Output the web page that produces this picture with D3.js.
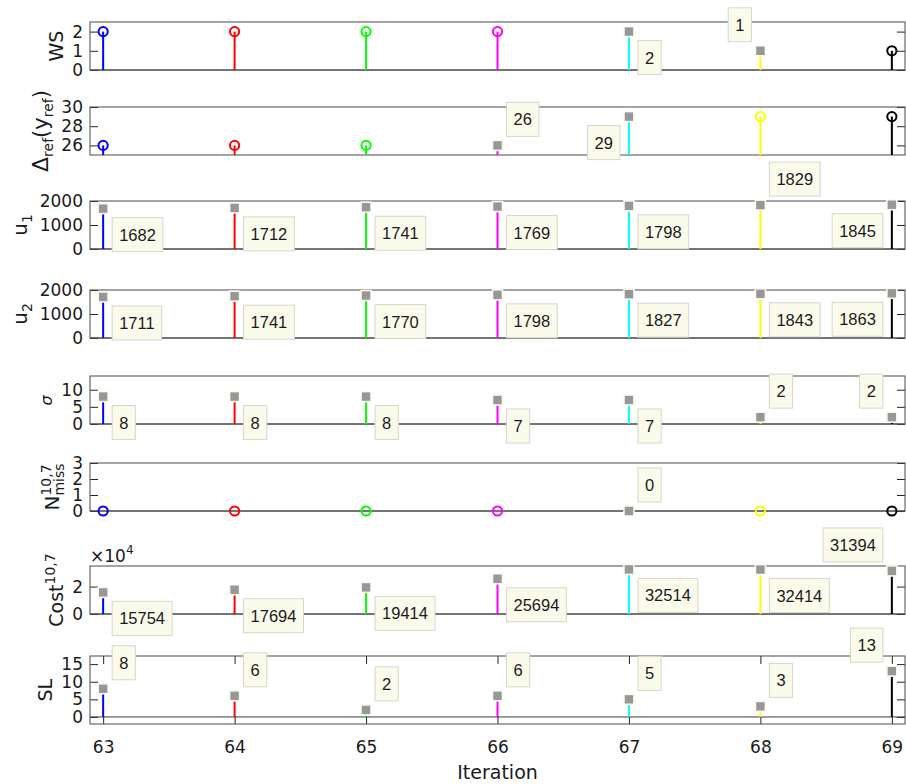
<!DOCTYPE html>
<html>
<head>
<meta charset="utf-8">
<script src="https://cdn.jsdelivr.net/npm/d3@7"></script>
<style>
  body { margin: 0; background: #fff; }
  svg { display: block; }
  .tick text { font-family: "DejaVu Sans", sans-serif; font-size: 17px; fill: #1a1a1a; }
  .tick line { stroke: #262626; }
  .ylab text { font-family: "DejaVu Sans", sans-serif; fill: #1a1a1a; }
</style>
</head>
<body>
<svg id="chart" width="906" height="784"></svg>
<script>
// ---- data -------------------------------------------------------------
const iterations = [63, 64, 65, 66, 67, 68, 69];
const wsValues = [2, 2, 2, 2, 2, 1, 1];
const refDeltaValues = [26, 26, 26, 26, 29, 29, 29];
const u1Values = [1682, 1712, 1741, 1769, 1798, 1829, 1845];
const u2Values = [1711, 1741, 1770, 1798, 1827, 1843, 1863];
const sigmaValues = [8, 8, 8, 7, 7, 2, 2];
const missValues = [0, 0, 0, 0, 0, 0, 0];
const costValues = [15754, 17694, 19414, 25694, 32514, 32414, 31394];
const slValues = [8, 6, 2, 6, 5, 3, 13];

// iterations with a data tip, and the corner of the point the tip sits at
// (br = below-right, ar = above-right, al = above-left, bl = below-left)
const wsTips = { 67: "br", 68: "al" };
const refDeltaTips = { 66: "ar", 67: "bl" };
const u1Tips = { 63: "br", 64: "br", 65: "br", 66: "br", 67: "br", 68: "ar", 69: "bl" };
const u2Tips = { 63: "br", 64: "br", 65: "br", 66: "br", 67: "br", 68: "br", 69: "bl" };
const sigmaTips = { 63: "br", 64: "br", 65: "br", 66: "br", 67: "br", 68: "ar", 69: "al" };
const missTips = { 67: "ar" };
const costTips = { 63: "br", 64: "br", 65: "br", 66: "br", 67: "br", 68: "br", 69: "al" };
const slTips = { 63: "ar", 64: "ar", 65: "ar", 66: "ar", 67: "ar", 68: "ar", 69: "al" };

// tick values
const wsTicks = [0, 1, 2];
const refDeltaTicks = [26, 28, 30];
const uTicks = [0, 1000, 2000];
const sigmaTicks = [0, 5, 10];
const missTicks = [0, 1, 2, 3];
const costTicks = [0, 20000];
const slTicks = [0, 5, 10, 15];
const xTickLabels = ["63", "64", "65", "66", "67", "68", "69"];

// one stem colour per iteration
const stemColors = ["#0000ff", "#ff0000", "#00ff00", "#ff00ff", "#00ffff", "#ffff00", "#000000"];

// ---- layout -----------------------------------------------------------
const svg = d3.select("#chart");
const plotLeft = 90, plotRight = 905;
const x = d3.scaleLinear().domain([62.9, 69.1]).range([plotLeft, plotRight]);

const panels = [
  { id: "ws", values: wsValues, ticks: wsTicks, tips: wsTips, top: 22, bottom: 70, domain: [0, 2.5],
    label: [{ t: "WS" }] },
  { id: "dref", values: refDeltaValues, ticks: refDeltaTicks, tips: refDeltaTips, top: 107, bottom: 155, domain: [25, 30],
    label: [{ t: "Δ", size: 22 }, { t: "ref", s: "sub" }, { t: "(y", size: 21 }, { t: "ref", s: "sub" }, { t: ")", size: 21 }] },
  { id: "u1", values: u1Values, ticks: uTicks, tips: u1Tips, top: 201, bottom: 249, domain: [0, 2000],
    label: [{ t: "u", size: 20 }, { t: "1", s: "sub" }] },
  { id: "u2", values: u2Values, ticks: uTicks, tips: u2Tips, top: 290, bottom: 338, domain: [0, 2000],
    label: [{ t: "u", size: 20 }, { t: "2", s: "sub" }] },
  { id: "sigma", values: sigmaValues, ticks: sigmaTicks, tips: sigmaTips, top: 376, bottom: 424, domain: [0, 14],
    label: [{ t: "σ", italic: true, size: 16 }] },
  { id: "miss", values: missValues, ticks: missTicks, tips: missTips, top: 463, bottom: 511, domain: [0, 3],
    label: [{ t: "N", size: 20 }, { t: "10,7", s: "sup" }, { t: "miss", s: "sub", stack: true }] },
  { id: "cost", values: costValues, ticks: costTicks, tips: costTips, top: 566, bottom: 614, domain: [0, 35000],
    format: d => d / 1e4, label: [{ t: "Cost" }, { t: "10,7", s: "sup" }] },
  { id: "sl", values: slValues, ticks: slTicks, tips: slTips, top: 656, bottom: 724, domain: [-2, 17.3],
    xAxis: true, label: [{ t: "SL" }] }
];

const defs = svg.append("defs");
const tipLayer = [];

panels.forEach(p => {
  const y = d3.scaleLinear().domain(p.domain).range([p.bottom, p.top]);
  p.y = y;
  const g = svg.append("g").attr("class", "panel-" + p.id);

  defs.append("clipPath").attr("id", "clip-" + p.id)
    .append("rect").attr("x", plotLeft).attr("y", p.top)
    .attr("width", plotRight - plotLeft).attr("height", p.bottom - p.top);

  // y axes: labelled on the left, mirrored ticks on the right
  const left = g.append("g").attr("transform", `translate(${plotLeft},0)`)
    .call(d3.axisLeft(y).tickValues(p.ticks).tickSize(-8).tickPadding(7)
      .tickFormat(p.format || d3.format("d")));
  left.select(".domain").remove();
  const right = g.append("g").attr("transform", `translate(${plotRight},0)`)
    .call(d3.axisRight(y).tickValues(p.ticks).tickSize(-8).tickFormat(""));
  right.select(".domain").remove();

  if (p.xAxis) {
    const bottomAxis = g.append("g").attr("transform", `translate(0,${p.bottom})`)
      .call(d3.axisBottom(x).tickValues(iterations).tickSize(-8).tickPadding(17)
        .tickFormat((d, i) => xTickLabels[i]));
    bottomAxis.select(".domain").remove();
    const topAxis = g.append("g").attr("transform", `translate(0,${p.top})`)
      .call(d3.axisTop(x).tickValues(iterations).tickSize(-8).tickFormat(""));
    topAxis.select(".domain").remove();
  }

  // stem baseline
  const y0 = y(0);
  if (y0 >= p.top && y0 <= p.bottom) {
    g.append("line").attr("x1", plotLeft).attr("x2", plotRight)
      .attr("y1", y0).attr("y2", y0).attr("stroke", "#3a3a3a").attr("stroke-width", 1);
  }

  // axes box
  g.append("rect").attr("x", plotLeft).attr("y", p.top)
    .attr("width", plotRight - plotLeft).attr("height", p.bottom - p.top)
    .attr("fill", "none").attr("stroke", "#4a4a4a").attr("stroke-width", 1);

  // stems
  const pts = iterations.map((it, i) => ({ it, v: p.values[i], c: stemColors[i], tip: p.tips[it] }));
  g.append("g").attr("clip-path", `url(#clip-${p.id})`)
    .selectAll("line").data(pts).join("line")
    .attr("x1", d => x(d.it)).attr("x2", d => x(d.it))
    .attr("y1", y(0)).attr("y2", d => y(d.v))
    .attr("stroke", d => d.c).attr("stroke-width", 2);

  // open circle markers where there is no tip
  g.selectAll("circle").data(pts.filter(d => !d.tip)).join("circle")
    .attr("cx", d => x(d.it)).attr("cy", d => y(d.v)).attr("r", 4.6)
    .attr("fill", "none").attr("stroke", d => d.c).attr("stroke-width", 2);

  // grey data-tip markers
  g.selectAll("rect.tipmark").data(pts.filter(d => d.tip)).join("rect")
    .attr("class", "tipmark")
    .attr("x", d => x(d.it) - 5).attr("y", d => y(d.v) - 5)
    .attr("width", 10).attr("height", 10)
    .attr("fill", "#979797").attr("stroke", "#fbfbef").attr("stroke-width", 1.6);

  pts.filter(d => d.tip).forEach(d => tipLayer.push({ px: x(d.it), py: y(d.v), v: d.v, side: d.tip }));

  // rotated y label, placed just left of the tick labels
  let tickLeft = Infinity;
  left.selectAll("text").each(function () {
    tickLeft = Math.min(tickLeft, this.getBoundingClientRect().left);
  });
  const outer = svg.append("g").attr("class", "ylab");
  const inner = outer.append("g");
  let cursor = 0, lastStart = 0;
  p.label.forEach(part => {
    const size = part.size || (part.s ? 14 : 19);
    const shift = part.s === "sub" ? 5 : part.s === "sup" ? -8 : 0;
    const start = part.stack ? lastStart : cursor;
    const t = inner.append("text").attr("x", start).attr("y", shift)
      .style("font-size", size + "px").text(part.t);
    if (part.italic) t.style("font-style", "italic");
    lastStart = start;
    cursor = Math.max(cursor, start + t.node().getComputedTextLength());
  });
  const bb = inner.node().getBBox();
  inner.attr("transform", `translate(${-bb.x - bb.width / 2},${-(bb.y + bb.height)})`);
  outer.attr("transform", `translate(${tickLeft - 5},${(p.top + p.bottom) / 2}) rotate(-90)`);
});

// exponent note above the cost axes
const costPanel = panels.find(p => p.id === "cost");
const expo = svg.append("text").attr("x", plotLeft).attr("y", costPanel.top - 4)
  .style("font-family", "DejaVu Sans, sans-serif").style("font-size", "17px").attr("fill", "#1a1a1a");
expo.append("tspan").text("×10");
expo.append("tspan").attr("dy", -8).style("font-size", "12px").text("4");

// x-axis title
svg.append("text").attr("x", (plotLeft + plotRight) / 2).attr("y", 779)
  .attr("text-anchor", "middle")
  .style("font-family", "DejaVu Sans, sans-serif").style("font-size", "19px").attr("fill", "#1a1a1a")
  .text("Iteration");

// data tips drawn above everything
const tipsG = svg.append("g").attr("class", "tips");
const gap = 9, boxH = 34;
tipLayer.forEach(d => {
  const g = tipsG.append("g");
  const txt = g.append("text").text(String(d.v))
    .style("font-family", "Liberation Sans, Arial, sans-serif").style("font-size", "16.5px")
    .attr("fill", "#1a1a1a").attr("text-anchor", "middle");
  const w = txt.node().getComputedTextLength() + 14;
  const leftX = d.side.endsWith("r") ? d.px + gap : d.px - gap - w;
  const topY = d.side.startsWith("b") ? d.py + gap : d.py - gap - boxH;
  g.insert("rect", "text").attr("x", leftX).attr("y", topY).attr("width", w).attr("height", boxH)
    .attr("fill", "#fbfbec").attr("stroke", "#d6d6cc").attr("stroke-width", 1);
  txt.attr("x", leftX + w / 2).attr("y", topY + boxH / 2 + 6);
});
</script>
</body>
</html>
